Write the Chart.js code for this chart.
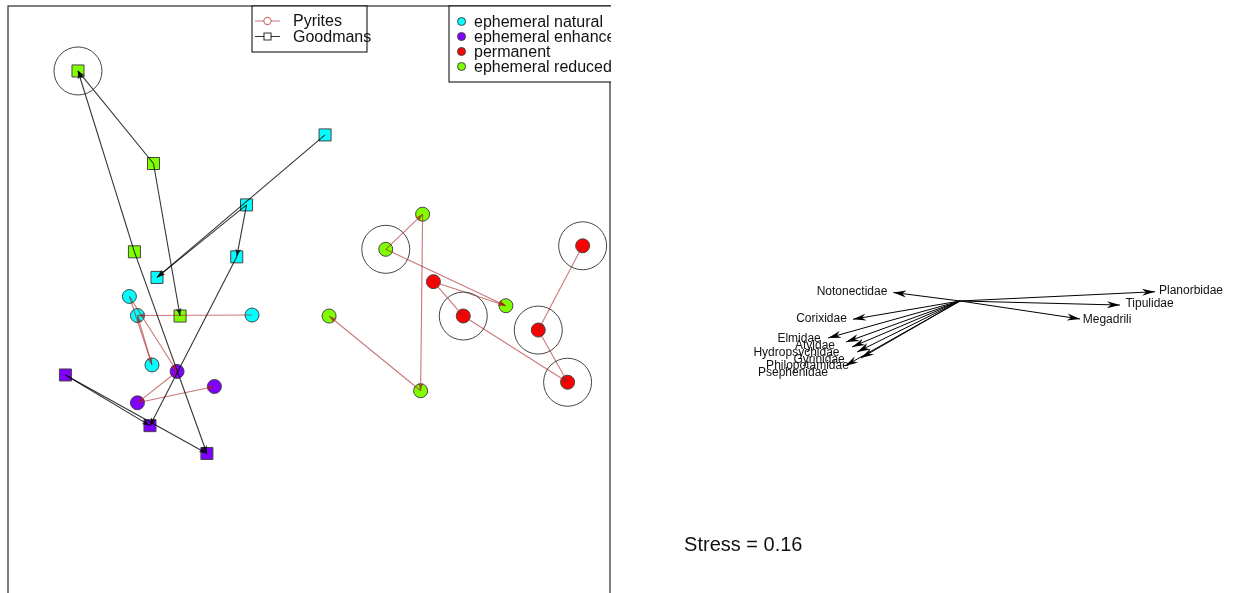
<!DOCTYPE html>
<html><head><meta charset="utf-8">
<script src="https://cdn.jsdelivr.net/npm/chart.js@4.4.1/dist/chart.umd.min.js"></script>
<style>
html,body{margin:0;padding:0;background:#fff;width:1258px;height:593px;overflow:hidden;position:relative;}
#left{position:absolute;left:0;top:0;}
#right{position:absolute;left:620px;top:0;}
</style></head><body>
<canvas id="left" width="620" height="620"></canvas>
<canvas id="right" width="638" height="593"></canvas>
<script>
// ---------------- DATA ----------------
const flowTypes = ['ephemeral natural', 'ephemeral enhanced', 'permanent', 'ephemeral reduced'];
const rivers = ['Pyrites', 'Goodmans'];

const sampleIds = ['G1','G2','G3','G4','C1','C2','C3','C4','P1','P2','P3',
                   'c1','c2','c3','c4','p1','p2','p3','g1','g2','g3','g4','g5','r1','r2','r3','r4','r5'];
const sampleRiver = ['Goodmans','Goodmans','Goodmans','Goodmans','Goodmans','Goodmans','Goodmans','Goodmans','Goodmans','Goodmans','Goodmans',
                     'Pyrites','Pyrites','Pyrites','Pyrites','Pyrites','Pyrites','Pyrites','Pyrites','Pyrites','Pyrites','Pyrites','Pyrites','Pyrites','Pyrites','Pyrites','Pyrites','Pyrites'];
const sampleFlow = ['ephemeral reduced','ephemeral reduced','ephemeral reduced','ephemeral reduced',
                    'ephemeral natural','ephemeral natural','ephemeral natural','ephemeral natural',
                    'ephemeral enhanced','ephemeral enhanced','ephemeral enhanced',
                    'ephemeral natural','ephemeral natural','ephemeral natural','ephemeral natural',
                    'ephemeral enhanced','ephemeral enhanced','ephemeral enhanced',
                    'ephemeral reduced','ephemeral reduced','ephemeral reduced','ephemeral reduced','ephemeral reduced',
                    'permanent','permanent','permanent','permanent','permanent'];
const nmds1 = [-0.921,-0.620,-0.696,-0.514, 0.064,-0.249,-0.606,-0.288, -0.971,-0.634,-0.407,
               -0.716,-0.684,-0.227,-0.626, -0.526,-0.684,-0.377, 0.080,0.453,0.306,0.785,0.445, 0.496,0.615,1.091,0.914,1.031];
const nmds2 = [0.941,0.572,0.220,-0.036, 0.686,0.407,0.118,0.200, -0.271,-0.473,-0.584,
               0.042,-0.034,-0.032,-0.231, -0.257,-0.382,-0.317, -0.036,0.370,0.230,0.005,-0.334, 0.101,-0.036,0.244,-0.092,-0.300];
const highlighted = ['G1','g3','r2','r3','r4','r5'];

const trajFrom = ['G2','G2','G3','G3','C1','C2','C2','C4','P1','P1',
                  'c1','c1','c4','c3','p1','p2','g5','g2','g3','g3','r1','r1','r2','r3','r4'];
const trajTo   = ['G1','G4','G1','P3','C3','C3','C4','P2','P2','P3',
                  'p1','c4','c2','c2','p2','p3','g1','g5','g2','g4','g4','r2','r5','r4','r5'];

const species = ['Planorbidae','Tipulidae','Megadrili','Notonectidae','Corixidae','Elmidae',
                 'Atyidae','Hydropsychidae','Gyrinidae','Philopotamidae','Psephenidae'];
const vecX = [1.345, 1.103, 0.828, -0.460, -0.738, -0.910, -0.786, -0.745, -0.710, -0.683, -0.793];
const vecY = [0.064, -0.028, -0.124, 0.059, -0.126, -0.255, -0.283, -0.317, -0.352, -0.393, -0.448];
const labX = [1.593, 1.307, 1.014, -0.745, -0.955, -1.110, -1.000, -1.128, -0.972, -1.052, -1.152];
const labY = [0.072, -0.021, -0.128, 0.062, -0.121, -0.262, -0.310, -0.359, -0.403, -0.448, -0.497];
const stress = 0.16;

// ---------------- STYLE ----------------
const flowColours = {'ephemeral natural':'#00FFFF','ephemeral enhanced':'#8000FF','permanent':'#FF0000','ephemeral reduced':'#80FF00'};
const riverLine = {'Pyrites':'rgba(165,30,30,0.6)','Goodmans':'rgba(0,0,0,0.8)'};
const FONT = '"Liberation Sans", Arial, Helvetica, sans-serif';

function arrowHead(ctx, x0, y0, x1, y1, len, hw, notch, color) {
  const ang = Math.atan2(y1 - y0, x1 - x0);
  ctx.save();
  ctx.translate(x1, y1); ctx.rotate(ang);
  ctx.beginPath();
  ctx.moveTo(0, 0); ctx.lineTo(-len, -hw); ctx.lineTo(-len + notch, 0); ctx.lineTo(-len, hw);
  ctx.closePath();
  ctx.fillStyle = color; ctx.fill();
  ctx.restore();
}

// ---------------- LEFT: NMDS trajectories ----------------
const pt = id => { const i = sampleIds.indexOf(id); return {x: nmds1[i], y: nmds2[i]}; };
const leftSets = [];
leftSets.push({
  label: 'highlight', data: highlighted.map(pt), showLine: false,
  pointRadius: 24, pointBackgroundColor: 'rgba(0,0,0,0)', pointBorderColor: '#444', pointBorderWidth: 1
});
trajFrom.forEach((f, k) => {
  const rv = sampleRiver[sampleIds.indexOf(f)];
  leftSets.push({
    label: 'traj', isArrow: true, arrowColor: riverLine[rv],
    data: [pt(f), pt(trajTo[k])], showLine: true,
    borderColor: riverLine[rv], borderWidth: 1.1, pointRadius: 0
  });
});
rivers.forEach(rv => flowTypes.forEach(fl => {
  const d = [];
  sampleIds.forEach((id, i) => { if (sampleRiver[i] === rv && sampleFlow[i] === fl) d.push({x: nmds1[i], y: nmds2[i]}); });
  if (!d.length) return;
  leftSets.push({
    label: rv + ' ' + fl, data: d, showLine: false,
    pointStyle: rv === 'Goodmans' ? 'rect' : 'circle',
    pointRadius: rv === 'Goodmans' ? 8.5 : 7,
    pointBackgroundColor: flowColours[fl], pointBorderColor: '#444', pointBorderWidth: 1
  });
}));

const leftPlugin = {
  id: 'leftDecor',
  afterDatasetsDraw(chart) {
    const ctx = chart.ctx, xs = chart.scales.x, ys = chart.scales.y;
    ctx.save();
    const a = chart.chartArea;
    ctx.beginPath(); ctx.rect(a.left, a.top, a.right - a.left, a.bottom - a.top); ctx.clip();
    chart.data.datasets.forEach(ds => {
      if (!ds.isArrow) return;
      const p0 = ds.data[0], p1 = ds.data[1];
      arrowHead(ctx, xs.getPixelForValue(p0.x), ys.getPixelForValue(p0.y),
                xs.getPixelForValue(p1.x), ys.getPixelForValue(p1.y), 8, 2.8, 2, ds.arrowColor);
    });
    ctx.restore();
  },
  afterDraw(chart) {
    const ctx = chart.ctx, a = chart.chartArea;
    ctx.save();
    ctx.strokeStyle = '#000'; ctx.lineWidth = 1;
    ctx.strokeRect(a.left, a.top, a.right - a.left, a.bottom - a.top);
    ctx.beginPath(); ctx.rect(0, 0, a.right + 1, chart.height); ctx.clip();
    // legend 1: rivers
    ctx.fillStyle = '#fff'; ctx.fillRect(252, 6, 115, 46);
    ctx.strokeRect(252, 6, 115, 46);
    ctx.font = '16px ' + FONT; ctx.textBaseline = 'middle'; ctx.textAlign = 'left';
    const ly = [21, 36.5];
    rivers.forEach((rv, i) => {
      const col = riverLine[rv];
      ctx.strokeStyle = col; ctx.lineWidth = 1.1;
      ctx.beginPath(); ctx.moveTo(255, ly[i]); ctx.lineTo(264, ly[i]); ctx.moveTo(271, ly[i]); ctx.lineTo(280, ly[i]); ctx.stroke();
      ctx.beginPath();
      if (rv === 'Pyrites') ctx.arc(267.5, ly[i], 3.6, 0, Math.PI * 2);
      else ctx.rect(264, ly[i] - 3.5, 7, 7);
      ctx.stroke();
      ctx.fillStyle = '#111'; ctx.fillText(rv, 293, ly[i] + 1);
    });
    // legend 2: flow types
    ctx.fillStyle = '#fff'; ctx.fillRect(449, 6, 200, 76);
    ctx.strokeStyle = '#000'; ctx.lineWidth = 1; ctx.strokeRect(449, 6, 200, 76);
    flowTypes.forEach((fl, i) => {
      const y = 21.5 + i * 15;
      ctx.beginPath(); ctx.arc(461.5, y, 4, 0, Math.PI * 2);
      ctx.fillStyle = flowColours[fl]; ctx.fill();
      ctx.strokeStyle = '#444'; ctx.lineWidth = 1; ctx.stroke();
      ctx.fillStyle = '#111'; ctx.fillText(fl, 474, y + 1);
    });
    ctx.restore();
  }
};

new Chart(document.getElementById('left'), {
  type: 'scatter',
  data: { datasets: leftSets },
  options: {
    responsive: false, animation: false, devicePixelRatio: 1, events: [],
    layout: { autoPadding: false, padding: { left: 8, top: 6, right: 10, bottom: 9.5 } },
    plugins: { legend: { display: false }, tooltip: { enabled: false } },
    scales: {
      x: { type: 'linear', min: -1.2, max: 1.2, display: false },
      y: { type: 'linear', min: -1.21, max: 1.2, display: false }
    }
  },
  plugins: [leftPlugin]
});

// ---------------- RIGHT: species vectors ----------------
const rightSets = species.map((sp, i) => ({
  label: sp, data: [{x: 0, y: 0}, {x: vecX[i], y: vecY[i]}], showLine: true,
  borderColor: '#000', borderWidth: 1, pointRadius: 0
}));

const rightPlugin = {
  id: 'rightDecor',
  afterDatasetsDraw(chart) {
    const ctx = chart.ctx, xs = chart.scales.x, ys = chart.scales.y;
    ctx.save();
    species.forEach((sp, i) => {
      arrowHead(ctx, xs.getPixelForValue(0), ys.getPixelForValue(0),
                xs.getPixelForValue(vecX[i]), ys.getPixelForValue(vecY[i]), 13, 3.5, 4, '#000');
    });
    ctx.font = '12px ' + FONT; ctx.textAlign = 'center'; ctx.textBaseline = 'middle';
    ctx.fillStyle = '#111';
    species.forEach((sp, i) => {
      ctx.fillText(sp, xs.getPixelForValue(labX[i]), ys.getPixelForValue(labY[i]));
    });
    ctx.font = '20px ' + FONT; ctx.textAlign = 'left';
    ctx.fillText('Stress = ' + stress.toFixed(2), xs.getPixelForValue(-1.903), ys.getPixelForValue(-1.683));
    ctx.restore();
  }
};

new Chart(document.getElementById('right'), {
  type: 'scatter',
  data: { datasets: rightSets },
  options: {
    responsive: false, animation: false, devicePixelRatio: 1, events: [],
    layout: { autoPadding: false, padding: 0 },
    plugins: { legend: { display: false }, tooltip: { enabled: false } },
    scales: {
      x: { type: 'linear', min: -2.345, max: 2.055, display: false },
      y: { type: 'linear', min: -2.014, max: 2.076, display: false }
    }
  },
  plugins: [rightPlugin]
});
</script>
</body></html>
